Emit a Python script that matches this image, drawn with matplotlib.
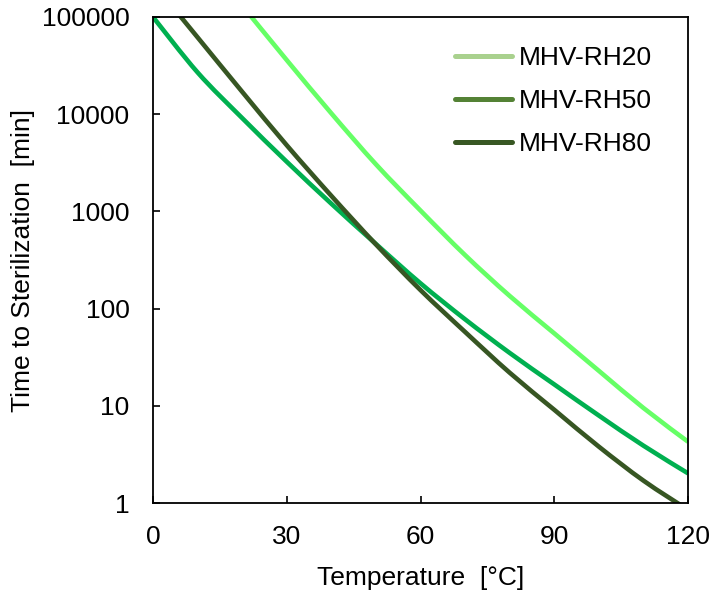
import numpy as np
import matplotlib.pyplot as plt
from matplotlib.lines import Line2D
from matplotlib.path import Path
from matplotlib.patches import PathPatch

plt.rcParams['font.family'] = ['Liberation Sans', 'DejaVu Sans']

temps = [0, 10, 20, 30, 40, 50, 60, 70, 80, 90, 100, 110, 120]

rh20 = [None, None, 131000, 36000, 10200, 3050, 1020, 355, 135, 55.6, 22.9, 9.5, 4.27]
rh50 = [100000, 26900, 9120, 3240, 1200, 462, 182, 77.6, 35, 16.6, 7.94, 3.89, 2.02]
rh80 = [224000, 61700, 17000, 4790, 1445, 457, 155, 57.5, 21.9, 9.1, 3.8, 1.7, 0.85]

labels = ['MHV-RH20', 'MHV-RH50', 'MHV-RH80']
line_colors = ['#66ff66', '#00b050', '#375623']
legend_colors = ['#a9d18e', '#548235', '#385723']


def smooth_path(xs, ys):
    # Excel-style smoothed line: cubic bezier through the points (in log space)
    p = np.column_stack([xs, np.log10(ys)])
    verts = [p[0]]
    codes = [Path.MOVETO]
    n = len(p)
    for i in range(n - 1):
        prev = p[i - 1] if i > 0 else p[i]
        nxt = p[i + 2] if i + 2 < n else p[i + 1]
        c1 = p[i] + (p[i + 1] - prev) / 6
        c2 = p[i + 1] - (nxt - p[i]) / 6
        verts += [c1, c2, p[i + 1]]
        codes += [Path.CURVE4] * 3
    verts = np.array(verts)
    verts[:, 1] = 10 ** verts[:, 1]
    return Path(verts, codes)


fig = plt.figure(figsize=(7.13, 5.96), dpi=100)
ax = fig.add_axes([0.2146, 0.156, 0.7504, 0.8155])

for series, c in zip([rh20, rh50, rh80], line_colors):
    pts = [(t, v) for t, v in zip(temps, series) if v is not None]
    path = smooth_path([q[0] for q in pts], [q[1] for q in pts])
    ax.add_patch(PathPatch(path, fill=False, edgecolor=c, lw=3.3,
                           capstyle='butt'))

ax.set_yscale('log')
ax.set_xlim(0, 120)
ax.set_ylim(1, 100000)
ax.set_xticks([0, 30, 60, 90, 120])
ax.set_yticks([1, 10, 100, 1000, 10000, 100000])
ax.set_yticklabels(['1', '10', '100', '1000', '10000', '100000'])
ax.minorticks_off()
ax.tick_params(direction='in', length=5, width=1.2, labelsize=19)
ax.tick_params(axis='y', pad=17)
ax.tick_params(axis='x', pad=16)
for s in ax.spines.values():
    s.set_linewidth(1.3)

ax.set_xlabel('Temperature  [°C]', fontsize=19, labelpad=12)
ax.set_ylabel('Time to Sterilization  [min]', fontsize=19, labelpad=5)

handles = [Line2D([], [], color=c, lw=3.6, solid_capstyle='round')
           for c in legend_colors]
ax.legend(handles, labels, loc='upper left', frameon=False, fontsize=19,
          handlelength=2.15, handletextpad=0.25, labelspacing=0.72,
          borderpad=0, borderaxespad=0, bbox_to_anchor=(0.565, 0.94))

fig.savefig('out.png', dpi=100)
